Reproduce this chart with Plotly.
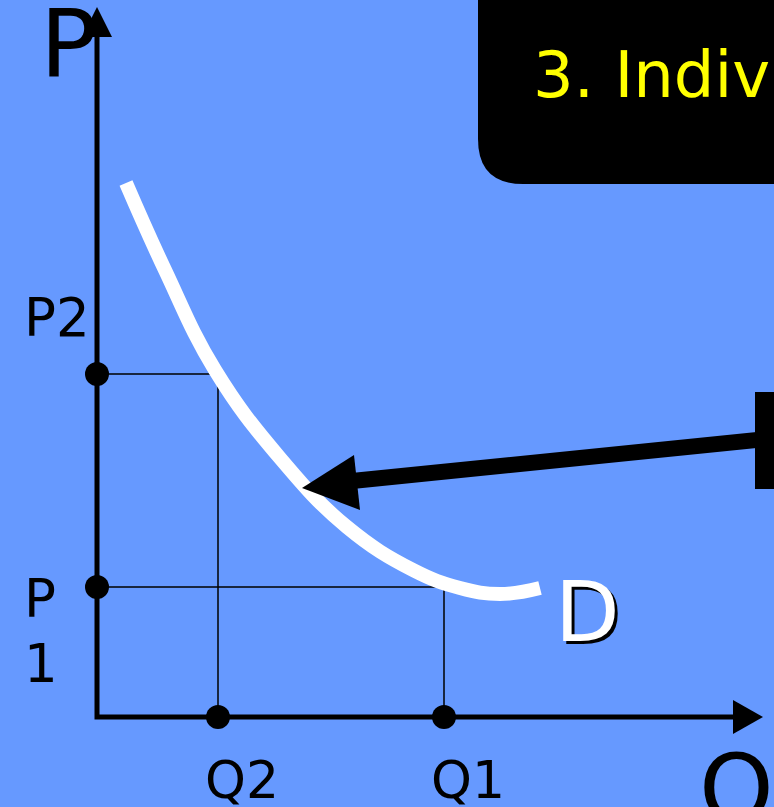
import plotly.graph_objects as go

# Data (origin at the axes corner; 1 unit = 1 px)
q_labels = ["Q2", "Q1"]
q_values = [121, 347]
p_labels = ["P2", "P", "1"]
p_values = [343, 130]

# Demand curve points (Q, P)
demand_q = [29, 68, 118, 183, 250, 316, 363, 403, 443]
demand_p = [534, 447, 347, 259, 190, 147, 129, 123, 129]

BG = "#6699FF"
FONT = "DejaVu Sans"

fig = go.Figure()

# Guide lines
for q, p in zip(q_values, p_values):
    fig.add_trace(go.Scatter(x=[0, q, q], y=[p, p, 0], mode="lines",
                             line=dict(color="black", width=1.5),
                             hoverinfo="skip", showlegend=False))

# Axes
fig.add_trace(go.Scatter(x=[0, 0, 640], y=[685, 0, 0], mode="lines",
                         line=dict(color="black", width=5),
                         hoverinfo="skip", showlegend=False))

# Demand curve
fig.add_trace(go.Scatter(x=demand_q, y=demand_p, mode="lines",
                         line=dict(color="white", width=14, shape="spline", smoothing=1.2),
                         hoverinfo="skip", showlegend=False))

# Dots
fig.add_trace(go.Scatter(x=[0, 0] + q_values, y=p_values + [0, 0], mode="markers",
                         marker=dict(color="black", size=24),
                         hoverinfo="skip", showlegend=False))

shapes = []
# Axis arrowheads
shapes.append(dict(type="path", path="M 0,710 L -15,680 L 15,680 Z",
                   fillcolor="black", line=dict(width=0)))
shapes.append(dict(type="path", path="M 666,0 L 636,17 L 636,-17 Z",
                   fillcolor="black", line=dict(width=0)))
# Top rounded title box
shapes.append(dict(type="path",
                   path="M 381,730 L 381,578 Q 381,533 426,533 L 700,533 L 700,730 Z",
                   fillcolor="black", line=dict(width=0)))
# Right box
shapes.append(dict(type="rect", x0=658, x1=700, y0=228, y1=325,
                   fillcolor="black", line=dict(width=0)))
# Big arrow shaft
shapes.append(dict(type="line", x0=680, y0=279, x1=255, y1=236,
                   line=dict(color="black", width=16)))
# Big arrowhead
shapes.append(dict(type="path", path="M 205,229 L 257,262 L 263,207 Z",
                   fillcolor="black", line=dict(width=0)))

annotations = []
# Axis titles
annotations.append(dict(x=-59, y=673, text="P", showarrow=False, xanchor="left",
                        yanchor="middle", font=dict(family=FONT, size=95, color="black")))
annotations.append(dict(x=600, y=-72, text="Q", showarrow=False, xanchor="left",
                        yanchor="middle", font=dict(family=FONT, size=95, color="black")))
# Q tick labels
for lab, q in zip(q_labels, q_values):
    annotations.append(dict(x=q + 24, y=-63, text=lab, showarrow=False,
                            xanchor="center", yanchor="middle",
                            font=dict(family=FONT, size=52, color="black")))
# P tick labels
annotations.append(dict(x=-75, y=400, text=p_labels[0], showarrow=False, xanchor="left",
                        yanchor="middle", font=dict(family=FONT, size=53, color="black")))
annotations.append(dict(x=-75, y=119, text=p_labels[1], showarrow=False, xanchor="left",
                        yanchor="middle", font=dict(family=FONT, size=53, color="black")))
annotations.append(dict(x=-75, y=54, text=p_labels[2], showarrow=False, xanchor="left",
                        yanchor="middle", font=dict(family=FONT, size=53, color="black")))
# D label with shadow
annotations.append(dict(x=459, y=102, text="D", showarrow=False, xanchor="left",
                        yanchor="middle", font=dict(family=FONT, size=84, color="black")))
annotations.append(dict(x=456, y=105, text="D", showarrow=False, xanchor="left",
                        yanchor="middle", font=dict(family=FONT, size=84, color="white")))
# Title
annotations.append(dict(x=434, y=642, text="3. Individual Demand", showarrow=False,
                        xanchor="left", yanchor="middle",
                        font=dict(family=FONT, size=64, color="#FFFF00")))

fig.update_layout(
    width=774, height=807,
    margin=dict(l=0, r=0, t=0, b=0),
    paper_bgcolor=BG, plot_bgcolor=BG,
    xaxis=dict(range=[-97, 677], visible=False, fixedrange=True),
    yaxis=dict(range=[-90, 717], visible=False, fixedrange=True),
    shapes=shapes, annotations=annotations,
    showlegend=False,
)

fig.write_html("out.html", config={"displayModeBar": False})

# remove the default page margin so the figure sits at the window's corner
with open("out.html", encoding="utf-8") as f:
    html = f.read()
html = html.replace("<body>", '<body style="margin:0;overflow:hidden">', 1)
with open("out.html", "w", encoding="utf-8") as f:
    f.write(html)
